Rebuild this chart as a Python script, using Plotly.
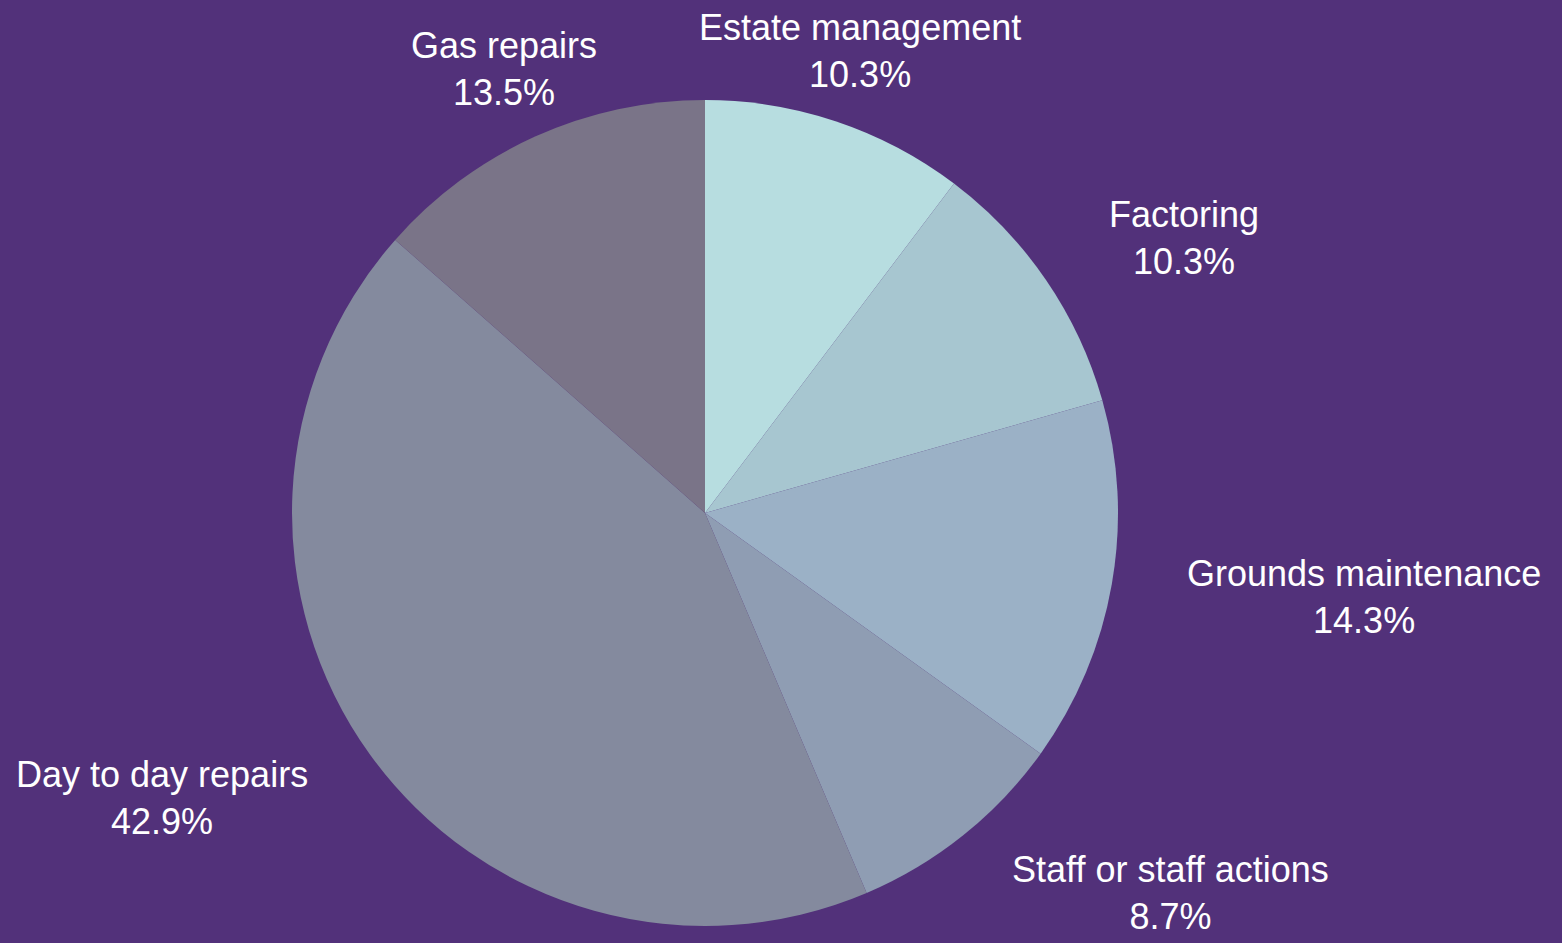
import math
import plotly.graph_objects as go

categories = ["Estate management", "Factoring", "Grounds maintenance",
              "Staff or staff actions", "Day to day repairs", "Gas repairs"]
values = [10.3, 10.3, 14.3, 8.7, 42.9, 13.5]
colors = ["#b7dde0", "#a7c6d0", "#9bb1c6", "#8f9db3", "#848a9e", "#7a7488"]

W, H = 1562, 943
CX, CY, R = 705, 513, 413
BG = "#52317a"
FONT = "Liberation Sans, Arial, sans-serif"

fig = go.Figure(go.Pie(
    labels=categories, values=values, sort=False, direction="clockwise",
    rotation=0, marker=dict(colors=colors, line=dict(width=0)),
    textinfo="none", hoverinfo="label+percent", showlegend=False,
    domain=dict(x=[(CX - R) / W, (CX + R) / W], y=[1 - (CY + R) / H, 1 - (CY - R) / H]),
))

total = sum(values)
cum = 0.0
LR = 1.18 * R
for name, v in zip(categories, values):
    mid = (cum + v / 2) / total * 2 * math.pi
    cum += v
    s, c = math.sin(mid), math.cos(mid)
    px = CX + LR * s
    py = CY - LR * c
    if abs(s) < 0.5:
        xa = "center"
    elif s > 0:
        xa = "left"
    else:
        xa = "right"
    fig.add_annotation(
        x=px / W, y=1 - py / H, xref="paper", yref="paper",
        text=f"{name}<br>{v / total * 100:.1f}%", showarrow=False,
        xanchor=xa, yanchor="middle", align="center",
        font=dict(family=FONT, size=36, color="white"),
    )

fig.update_layout(
    width=W, height=H, margin=dict(l=0, r=0, t=0, b=0),
    paper_bgcolor=BG, plot_bgcolor=BG,
)
fig.write_html(
    "out.html",
    config={"displayModeBar": False},
    post_script="document.body.style.margin='0';document.body.style.background='%s';"
                "document.body.style.overflow='hidden';" % BG,
)
